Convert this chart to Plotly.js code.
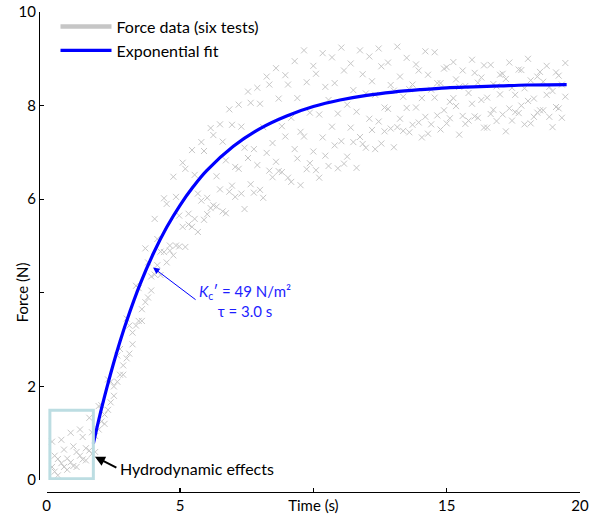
<!DOCTYPE html>
<html>
<head>
<meta charset="utf-8">
<script src="https://cdn.plot.ly/plotly-3.0.1.min.js"></script>
<style>
html,body{margin:0;padding:0;background:#fff;}
#chart{width:600px;height:520px;}
</style>
</head>
<body>
<div id="chart"></div>
<script>
// ---- Data ----
var timeA = [0.20,0.55,0.90,1.25,1.60,1.95,2.30,2.65,3.00,3.35,3.70,4.05,4.40,4.75,5.10,5.45,5.80,6.15,6.50,6.85,7.20,7.55,7.90,8.25,8.60,8.95,9.30,9.65,10.00,10.35,10.70,11.05,11.40,11.75,12.10,12.45,12.80,13.15,13.50,13.85,14.20,14.55,14.90,15.25,15.60,15.95,16.30,16.65,17.00,17.35,17.70,18.05,18.40,18.75,19.10,19.45];
var timeB = [0.30,0.65,1.00,1.35,1.70,2.05,2.40,2.75,3.10,3.45,3.80,4.15,4.50,4.85,5.20,5.55,5.90,6.25,6.60,6.95,7.30,7.65,8.00,8.35,8.70,9.05,9.40,9.75,10.10,10.45,10.80,11.15,11.50,11.85,12.20,12.55,12.90,13.25,13.60,13.95,14.30,14.65,15.00,15.35,15.70,16.05,16.40,16.75,17.10,17.45,17.80,18.15,18.50,18.85,19.20];
var timeC = [0.42,0.77,1.12,1.47,1.82,2.17,2.52,2.87,3.22,3.57,3.92,4.27,4.62,4.97,5.32,5.67,6.02,6.37,6.72,7.07,7.42,7.77,8.12,8.47,8.82,9.17,9.52,9.87,10.22,10.57,10.92,11.27,11.62,11.97,12.32,12.67,13.02,13.37,13.72,14.07,14.42,14.77,15.12,15.47,15.82,16.17,16.52,16.87,17.22,17.57,17.92,18.27,18.62,18.97,19.32];

var force1 = [0.82,0.86,1.01,1.08,1.33,1.58,2.15,2.66,3.45,4.15,4.95,5.58,6.02,6.48,6.78,7.05,7.22,7.52,7.60,7.92,8.02,8.30,8.38,8.62,8.80,8.65,8.95,9.18,8.85,9.12,9.03,9.24,8.90,9.18,9.05,9.22,8.92,9.26,9.02,8.88,9.16,9.14,8.79,8.93,8.75,8.98,8.60,8.87,8.66,8.92,8.77,9.00,8.62,8.85,8.71,8.91];
var force2 = [0.52,0.65,0.72,0.92,1.02,1.60,2.10,2.80,3.30,4.10,4.65,5.15,5.90,6.05,6.65,6.52,7.03,7.37,7.23,7.59,7.55,8.06,8.04,8.45,8.15,8.45,8.16,8.50,8.68,8.40,8.48,8.75,8.33,8.67,8.52,8.84,8.44,8.62,8.35,8.75,8.66,8.48,8.82,8.56,8.42,8.70,8.86,8.46,8.68,8.38,8.76,8.54,8.72,8.40,8.64];
var force3 = [0.45,0.46,0.60,0.68,0.94,1.40,2.00,2.45,3.15,3.65,4.35,4.88,5.01,5.65,5.69,6.12,6.03,6.49,6.83,6.69,7.10,7.07,7.54,7.20,7.56,7.74,7.44,7.85,7.81,8.12,7.83,8.02,7.87,8.26,8.23,7.96,8.32,8.19,8.45,8.16,8.34,8.48,8.08,8.40,8.27,8.49,8.17,8.41,8.57,8.23,8.37,8.15,8.51,8.31,8.45];
var force4 = [0.28,0.36,0.38,0.52,0.63,1.08,1.50,2.10,2.60,3.30,3.80,4.39,4.87,4.80,5.41,5.41,5.97,5.81,6.21,6.16,6.65,6.88,6.73,6.99,6.80,7.34,7.07,7.34,7.02,7.32,7.55,7.24,7.53,7.33,7.72,7.66,7.93,7.54,7.95,7.96,7.76,8.17,7.90,8.16,7.78,8.04,8.12,7.82,8.24,7.94,7.84,8.10,7.85,8.23,7.97,8.19];
var force5 = [0.18,0.28,0.30,0.44,0.56,1.25,1.66,2.25,2.70,3.40,3.90,4.59,4.65,5.01,4.98,5.58,5.56,5.87,5.74,6.29,6.12,6.32,6.20,6.61,6.60,6.46,6.87,6.64,6.62,6.93,7.15,6.76,7.22,7.18,7.48,7.19,7.51,7.72,7.43,7.64,7.40,7.79,7.62,7.99,7.61,7.77,7.53,7.91,7.81,7.68,8.00,7.62,7.90,7.76,7.94];
var force6 = [0.10,0.22,0.28,0.42,0.60,1.20,1.80,2.25,2.90,3.40,4.05,4.38,4.90,4.99,5.46,5.30,5.68,5.84,5.70,6.05,5.79,6.14,6.03,6.47,6.58,6.37,6.30,6.77,6.46,6.71,6.66,6.91,6.67,7.10,7.07,7.45,7.11,7.46,7.59,7.32,7.60,7.49,7.73,7.38,7.68,7.74,7.53,7.67,7.45,7.86,7.60,7.76,7.90,7.54,7.74];

// Exponential fit, values
var fitTime  = [1.75,2.00,2.25,2.50,2.75,3.00,3.50,4.00,4.50,5.00,5.50,6.00,7.00,8.00,9.00,10.00,11.00,12.00,13.00,14.00,15.00,16.00,17.00,18.00,19.50];
var fitForce = [0.78,1.40,1.96,2.48,2.96,3.40,4.18,4.84,5.40,5.87,6.27,6.61,7.13,7.51,7.78,7.98,8.12,8.22,8.29,8.34,8.38,8.40,8.42,8.44,8.45];

var xTickVals = [0,5,10,15,20];
var xTickText = ['0','5','Time (s)','15','20'];
var yTickVals = [0,2,4,6,8,10];
var yTickText = ['0','2','','6','8','10'];

var legendNames = ['Force data (six tests)','Exponential fit'];
var fitLabel = '<i>K</i><sub>c</sub>\u2032 = 49 N/m\u00b2<br>\u03c4 = 3.0 s';
var hydroLabel = 'Hydrodynamic effects';
var yLabel = 'Force (N)';

// ---- Traces ----
var GREY = '#c6c6c6';
var BLUE = '#0000ff';
var tests = [[timeA,force1],[timeB,force2],[timeC,force3],[timeA,force4],[timeB,force5],[timeC,force6]];
var traces = tests.map(function(d){
  return {x:d[0], y:d[1], type:'scatter', mode:'markers', showlegend:false, hoverinfo:'skip',
    marker:{symbol:'x-thin', size:6, color:GREY, line:{width:1, color:GREY}}};
});
traces.push({x:[null], y:[null], type:'scatter', mode:'lines', name:legendNames[0],
  line:{color:GREY, width:4.5}});
traces.push({x:fitTime, y:fitForce, type:'scatter', mode:'lines', name:legendNames[1],
  line:{color:BLUE, width:3.2, shape:'spline', smoothing:1}});

var FONT = 'Lato, "Open Sans", sans-serif';
var layout = {
  width:600, height:520,
  margin:{l:39, r:20, t:10, b:28, pad:0},
  paper_bgcolor:'#fff', plot_bgcolor:'#fff',
  font:{family:FONT, size:15, color:'#000'},
  showlegend:true,
  legend:{x:0.0305, y:1.005, xanchor:'left', yanchor:'top', bgcolor:'rgba(0,0,0,0)',
    font:{family:FONT, size:16, color:'#000'}, itemwidth:51, tracegroupgap:0},
  xaxis:{domain:[0.0142,1], range:[0,20], anchor:'free', position:0,
    showline:true, linecolor:'#000', linewidth:1.3, showgrid:false, zeroline:false,
    ticks:'inside', ticklen:4, tickwidth:1.3, tickcolor:'#000',
    tickmode:'array', tickvals:xTickVals, ticktext:xTickText, tickfont:{size:15}},
  yaxis:{domain:[0.0249,1], range:[0,10], anchor:'free', position:0,
    showline:true, linecolor:'#000', linewidth:1.3, showgrid:false, zeroline:false,
    ticks:'inside', ticklen:4, tickwidth:1.3, tickcolor:'#000',
    tickmode:'array', tickvals:yTickVals, ticktext:yTickText, tickfont:{size:15}},
  shapes:[{type:'rect', xref:'x', yref:'y', x0:0.12, x1:1.75, y0:0.03, y1:1.49,
    line:{color:'#bcdde2', width:3}, fillcolor:'rgba(0,0,0,0)', layer:'above'}],
  annotations:[
    {x:3.99, y:4.54, ax:5.64, ay:3.83, xref:'x', yref:'y', axref:'x', ayref:'y',
      text:'', showarrow:true, arrowhead:2, arrowsize:1.3, arrowwidth:1, arrowcolor:BLUE, standoff:0, startstandoff:0},
    {x:7.45, y:3.82, xref:'x', yref:'y', text:fitLabel, showarrow:false, align:'center',
      xanchor:'center', yanchor:'middle', font:{family:FONT, size:15, color:'#1e1eff'}},
    {x:1.81, y:0.50, ax:2.67, ay:0.25, xref:'x', yref:'y', axref:'x', ayref:'y',
      text:'', showarrow:true, arrowhead:2, arrowsize:1, arrowwidth:2, arrowcolor:'#000', standoff:0, startstandoff:0},
    {x:2.67, y:0.25, xref:'x', yref:'y', text:hydroLabel, showarrow:false,
      xanchor:'left', yanchor:'middle', font:{family:FONT, size:16, color:'#000'}},
    {x:-0.0323, y:4, xref:'paper', yref:'y', text:yLabel, showarrow:false, textangle:-90,
      xanchor:'center', yanchor:'middle', font:{family:FONT, size:15, color:'#000'}}
  ]
};
Plotly.newPlot('chart', traces, layout, {displayModeBar:false, staticPlot:true});
</script>
</body>
</html>
